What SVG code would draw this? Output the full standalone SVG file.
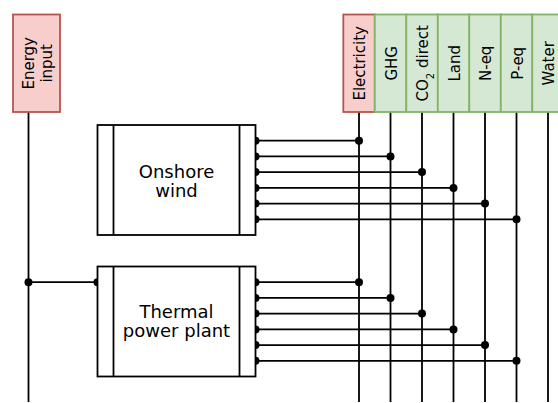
<svg xmlns="http://www.w3.org/2000/svg" width="558" height="403" viewBox="0 0 558 403">
<style>
.ln{stroke:#000;stroke-width:1.8;fill:none}
.proc{fill:#fff;stroke:#000;stroke-width:1.8}
.red{fill:#f8cecc;stroke:#b85450;stroke-width:1.8}
.green{fill:#d5e8d4;stroke:#82b366;stroke-width:1.8}
.dot{fill:#000}
.lbl{font-family:"DejaVu Sans",Verdana,sans-serif;font-size:15px;fill:#000;text-anchor:middle}
.big{font-size:18px}
</style>
<rect width="558" height="403" fill="#fff"/>
<g id="connectors">
  <path class="ln" d="M28.5 112V402M359 112V402M390.5 112V402M422 112V402M453.5 112V402M485 112V402M516.5 112V402M548 112V402"/>
  <path class="ln" d="M28.5 282.2H97.5"/>
  <path class="ln" d="M255.5 140.7H359M255.5 156.4H390.5M255.5 172.1H422M255.5 187.9H453.5M255.5 203.6H485M255.5 219.3H516.5"/>
  <path class="ln" d="M255.5 282.2H359M255.5 297.9H390.5M255.5 313.6H422M255.5 329.4H453.5M255.5 345.1H485M255.5 360.8H516.5"/>
  <g class="dot">
    <circle cx="28.5" cy="282.2" r="4"/><circle cx="97.5" cy="282.2" r="4"/>
    <circle cx="255.5" cy="140.7" r="4"/><circle cx="359" cy="140.7" r="4"/>
    <circle cx="255.5" cy="156.4" r="4"/><circle cx="390.5" cy="156.4" r="4"/>
    <circle cx="255.5" cy="172.1" r="4"/><circle cx="422" cy="172.1" r="4"/>
    <circle cx="255.5" cy="187.9" r="4"/><circle cx="453.5" cy="187.9" r="4"/>
    <circle cx="255.5" cy="203.6" r="4"/><circle cx="485" cy="203.6" r="4"/>
    <circle cx="255.5" cy="219.3" r="4"/><circle cx="516.5" cy="219.3" r="4"/>
    <circle cx="255.5" cy="282.2" r="4"/><circle cx="359" cy="282.2" r="4"/>
    <circle cx="255.5" cy="297.9" r="4"/><circle cx="390.5" cy="297.9" r="4"/>
    <circle cx="255.5" cy="313.6" r="4"/><circle cx="422" cy="313.6" r="4"/>
    <circle cx="255.5" cy="329.4" r="4"/><circle cx="453.5" cy="329.4" r="4"/>
    <circle cx="255.5" cy="345.1" r="4"/><circle cx="485" cy="345.1" r="4"/>
    <circle cx="255.5" cy="360.8" r="4"/><circle cx="516.5" cy="360.8" r="4"/>
  </g>
</g>
<g id="energy-input">
  <rect class="red" x="13" y="14.5" width="47" height="97.5"/>
  <text class="lbl" transform="translate(33.5,63.3) rotate(-90)">Energy</text>
  <text class="lbl" transform="translate(51.5,63.3) rotate(-90)">input</text>
</g>
<g id="electricity">
  <rect class="red" x="343.3" y="14.5" width="31.5" height="97.5"/>
  <text class="lbl" transform="translate(365,63.3) rotate(-90)">Electricity</text>
</g>
<g id="ghg">
  <rect class="green" x="374.8" y="14.5" width="31.5" height="97.5"/>
  <text class="lbl" transform="translate(396.5,63.3) rotate(-90)">GHG</text>
</g>
<g id="co2-direct">
  <rect class="green" x="406.3" y="14.5" width="31.5" height="97.5"/>
  <text class="lbl" transform="translate(428,63.3) rotate(-90)">CO<tspan font-size="10" baseline-shift="sub">2</tspan> direct</text>
</g>
<g id="land">
  <rect class="green" x="437.8" y="14.5" width="31.5" height="97.5"/>
  <text class="lbl" transform="translate(459.5,63.3) rotate(-90)">Land</text>
</g>
<g id="n-eq">
  <rect class="green" x="469.3" y="14.5" width="31.5" height="97.5"/>
  <text class="lbl" transform="translate(491,63.3) rotate(-90)">N-eq</text>
</g>
<g id="p-eq">
  <rect class="green" x="500.8" y="14.5" width="31.5" height="97.5"/>
  <text class="lbl" transform="translate(522.5,63.3) rotate(-90)">P-eq</text>
</g>
<g id="water">
  <rect class="green" x="532.3" y="14.5" width="31.5" height="97.5"/>
  <text class="lbl" transform="translate(554,63.3) rotate(-90)">Water</text>
</g>
<g id="onshore-wind">
  <rect class="proc" x="97.5" y="125" width="158" height="110"/>
  <path class="ln" d="M113.5 125V235M239.5 125V235"/>
  <text class="lbl big" x="176.5" y="177.5">Onshore</text>
  <text class="lbl big" x="176.5" y="197">wind</text>
</g>
<g id="thermal-power-plant">
  <rect class="proc" x="97.5" y="266.5" width="158" height="110"/>
  <path class="ln" d="M113.5 266.5V376.5M239.5 266.5V376.5"/>
  <text class="lbl big" x="176.5" y="317.5">Thermal</text>
  <text class="lbl big" x="176.5" y="337">power plant</text>
</g>
</svg>
